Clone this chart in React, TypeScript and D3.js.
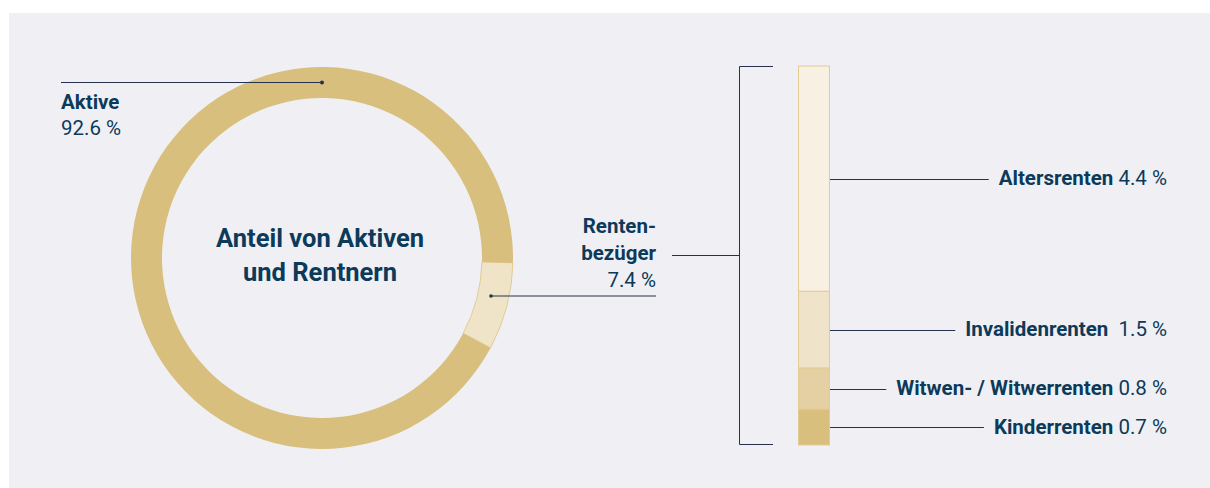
import React, { useEffect, useRef } from "react";
import * as d3 from "d3";

// donut: share of actives vs pensioners (percent)
const ringLabels = ["Rentenbezüger", "Aktive"];
const ringValues = [7.4, 92.6];
const ringColors = ["#f0e4c8", "#d8bf7d"];

// stacked bar: pension types (percent)
const pensionLabels = ["Altersrenten", "Invalidenrenten", "Witwen- / Witwerrenten", "Kinderrenten"];
const pensionValues = [4.4, 1.5, 0.8, 0.7];
const pensionValueText = ["4.4 %", "1.5 %", "0.8 %", "0.7 %"];
const pensionColors = ["#f7f0e3", "#efe3c9", "#e4d0a3", "#d8bf7d"];

const W = 1210, H = 488;
const NAVY = "#0c3a5a";
const LINE = "#26324d";
const FONT = "Roboto, 'Noto Sans', sans-serif";
const FS = 20.5;

export default function App() {
  const ref = useRef<SVGSVGElement>(null);

  useEffect(() => {
    const svg = d3.select(ref.current);
    svg.selectAll("*").remove();

    svg.append("rect").attr("x", 9).attr("y", 13).attr("width", W - 9).attr("height", H - 13).attr("fill", "#f0f0f4");

    // donut
    const cx = 322, cy = 258, rOut = 191, rIn = 160;
    const start = Math.PI / 2 + 0.025;
    const pie = d3.pie<number>().sort(null).startAngle(start).endAngle(start + 2 * Math.PI);
    const arcs = pie(ringValues);
    const arc = d3.arc<d3.PieArcDatum<number>>().innerRadius(rIn).outerRadius(rOut);
    const g = svg.append("g").attr("transform", `translate(${cx},${cy})`);
    g.selectAll("path")
      .data(arcs)
      .join("path")
      .attr("d", arc)
      .attr("fill", (d, i) => ringColors[i])
      .attr("stroke", (d, i) => (i === 0 ? "#e2cc92" : "none"))
      .attr("stroke-width", 1);

    const mid = (rIn + rOut) / 2;

    // Aktive callout
    svg.append("line").attr("x1", 61).attr("x2", cx).attr("y1", cy - mid).attr("y2", cy - mid)
      .attr("stroke", LINE).attr("stroke-width", 1);
    svg.append("circle").attr("cx", cx).attr("cy", cy - mid).attr("r", 2).attr("fill", LINE);
    svg.append("text").attr("x", 61).attr("y", 109).attr("fill", NAVY).attr("font-family", FONT)
      .attr("font-weight", 700).attr("font-size", FS).text(ringLabels[1]);
    svg.append("text").attr("x", 61).attr("y", 135).attr("fill", NAVY).attr("font-family", FONT)
      .attr("font-weight", 400).attr("font-size", FS).text(`${ringValues[1]} %`);

    // centre title
    const title = svg.append("text").attr("text-anchor", "middle").attr("fill", NAVY)
      .attr("font-family", FONT).attr("font-weight", 700).attr("font-size", 25.5);
    title.append("tspan").attr("x", 320).attr("y", 247).text("Anteil von Aktiven");
    title.append("tspan").attr("x", 320).attr("y", 281).text("und Rentnern");

    // Rentenbezüger callout
    const pxy = 296;
    svg.append("line").attr("x1", 491).attr("x2", 656).attr("y1", pxy).attr("y2", pxy)
      .attr("stroke", LINE).attr("stroke-width", 1);
    svg.append("circle").attr("cx", 491).attr("cy", pxy).attr("r", 1.8).attr("fill", LINE);
    const pt = svg.append("text").attr("text-anchor", "end").attr("fill", NAVY).attr("font-family", FONT)
      .attr("font-size", FS);
    pt.append("tspan").attr("x", 656).attr("y", 233).attr("font-weight", 700).text("Renten-");
    pt.append("tspan").attr("x", 656).attr("y", 260).attr("font-weight", 700).text("bezüger");
    pt.append("tspan").attr("x", 656).attr("y", 287).attr("font-weight", 400).text(`${ringValues[0]} %`);

    // stacked bar
    const barX = 798, barW = 32, top = 66, bottom = 445;
    const total = d3.sum(pensionValues);
    const y = d3.scaleLinear().domain([0, total]).range([top, bottom]);
    const cum = pensionValues.map((v, i) => d3.sum(pensionValues.slice(0, i)));

    // bracket
    svg.append("path")
      .attr("d", `M773,${top + 0.5}H739.5V${bottom - 0.5}H773`)
      .attr("fill", "none").attr("stroke", LINE).attr("stroke-width", 1);
    svg.append("line").attr("x1", 672).attr("x2", 739).attr("y1", 255.5).attr("y2", 255.5)
      .attr("stroke", LINE).attr("stroke-width", 1);

    svg.selectAll(".seg")
      .data(pensionValues)
      .join("rect")
      .attr("class", "seg")
      .attr("x", barX + 0.5)
      .attr("width", barW - 1)
      .attr("y", (d, i) => y(cum[i]))
      .attr("height", (d) => y(d) - y(0))
      .attr("fill", (d, i) => pensionColors[i])
      .attr("stroke", "#e3cc93")
      .attr("stroke-width", 1);

    const textEnd = 1167;
    pensionLabels.forEach((lab, i) => {
      const yc = y(cum[i] + pensionValues[i] / 2);
      const t = svg.append("text").attr("x", textEnd).attr("y", yc + 6.5).attr("text-anchor", "end")
        .attr("fill", NAVY).attr("font-family", FONT).attr("font-size", FS);
      t.append("tspan").attr("font-weight", 700).text(lab);
      t.append("tspan").attr("font-weight", 400)
        .text(i === 1 ? "\u00a0\u00a0" + pensionValueText[i] : "\u00a0" + pensionValueText[i]);
      const bb = (t.node() as SVGTextElement).getBBox();
      svg.append("line").attr("x1", barX + barW).attr("x2", bb.x - 10)
        .attr("y1", Math.round(yc) + 0.5).attr("y2", Math.round(yc) + 0.5)
        .attr("stroke", LINE).attr("stroke-width", 1);
    });
  }, []);

  return (
    <svg ref={ref} width={W} height={H} style={{ position: "absolute", left: 0, top: 0, background: "#fff" }} />
  );
}
